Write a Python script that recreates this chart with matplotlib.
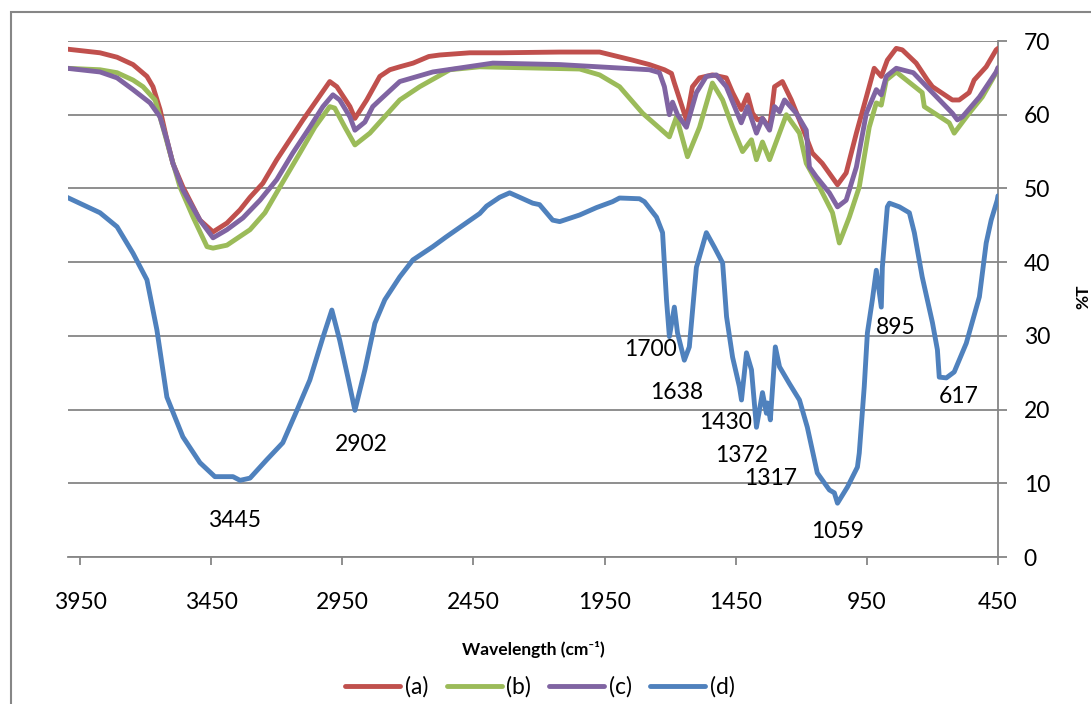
import numpy as np
import matplotlib
matplotlib.use("Agg")
import matplotlib.pyplot as plt
from matplotlib.patches import Rectangle

plt.rcParams['font.family'] = ['Lato', 'DejaVu Sans']

# spectra, wavenumber (cm-1) vs %T
wn_a = [4000, 3874, 3809, 3748, 3695, 3672, 3645, 3619, 3596, 3558, 3493, 3443, 3390, 3340, 3302,
        3253, 3200, 3150, 3100, 3047, 2998, 2971, 2921, 2902, 2857, 2807, 2769, 2731, 2680, 2620,
        2579, 2464, 2350, 2121, 1969, 1843, 1779, 1722, 1695, 1684, 1638, 1615, 1588, 1539, 1486,
        1462, 1429, 1405, 1386, 1367, 1348, 1321, 1302, 1272, 1238, 1196, 1158, 1120, 1062, 1029,
        990, 952, 922, 895, 872, 838, 815, 762, 719, 700, 624, 598, 560, 541, 495, 457, 450]
t_a = [68.9, 68.4, 67.8, 66.8, 65.2, 63.8, 60.7, 56.6, 53.4, 50.2, 45.7, 44.1, 45.3, 47.1, 48.8,
       50.7, 53.9, 56.6, 59.3, 62.0, 64.5, 63.8, 61.1, 59.5, 62.0, 65.2, 66.1, 66.5, 67.0, 67.9,
       68.1, 68.4, 68.4, 68.5, 68.5, 67.4, 66.8, 66.1, 65.6, 64.3, 59.3, 63.8, 65.0, 65.4, 65.0,
       63.0, 60.7, 62.7, 60.2, 59.3, 59.5, 58.2, 63.8, 64.5, 62.0, 58.3, 54.8, 53.4, 50.5, 52.1,
       57.5, 62.4, 66.3, 65.2, 67.4, 69.0, 68.8, 67.0, 64.7, 63.8, 62.0, 62.0, 63.0, 64.7, 66.5,
       68.8, 69.0]

wn_b = [4000, 3874, 3809, 3748, 3710, 3664, 3634, 3607, 3569, 3519, 3466, 3443, 3390, 3302, 3245,
        3188, 3112, 3055, 2998, 2979, 2940, 2902, 2845, 2731, 2655, 2540, 2426, 2045, 1969, 1893,
        1805, 1741, 1703, 1676, 1634, 1588, 1539, 1500, 1462, 1424, 1390, 1371, 1348, 1321, 1257,
        1207, 1181, 1131, 1081, 1055, 1017, 979, 941, 914, 895, 876, 838, 739, 731, 636,
        617, 560, 510, 457, 450]
t_b = [66.3, 66.1, 65.7, 64.7, 63.8, 62.0, 58.3, 54.8, 50.2, 46.1, 42.1, 41.9, 42.3, 44.4, 46.7,
       50.2, 54.8, 58.3, 61.1, 60.9, 58.3, 55.9, 57.5, 62.0, 63.8, 66.1, 66.5, 66.2, 65.4, 63.8,
       60.2, 58.2, 57.0, 59.7, 54.3, 58.3, 64.3, 62.0, 58.3, 55.0, 56.6, 53.9, 56.3, 53.9, 60.0,
       57.5, 53.4, 50.2, 46.7, 42.6, 46.1, 50.2, 58.3, 61.6, 61.3, 64.7, 65.8, 63.0, 61.1, 58.9,
       57.5, 60.2, 62.4, 65.7, 66.3]

wn_c = [4000, 3874, 3809, 3748, 3683, 3645, 3619, 3596, 3558, 3493, 3443, 3390, 3329, 3264, 3200,
        3139, 3074, 3024, 2986, 2960, 2921, 2902, 2864, 2834, 2807, 2731, 2605, 2376, 2121, 1779,
        1741, 1722, 1703, 1691, 1672, 1638, 1600, 1562, 1524, 1486, 1429, 1405, 1371, 1348, 1321,
        1302, 1283, 1264, 1219, 1181, 1169, 1143, 1093, 1062, 1029, 990, 952, 914, 895, 876,
        838, 773, 700, 624, 605, 586, 521, 457, 450]
t_c = [66.3, 65.8, 65.0, 63.4, 61.6, 59.7, 56.6, 53.4, 49.8, 45.7, 43.3, 44.4, 46.0, 48.4, 51.2,
       54.8, 58.3, 61.1, 62.7, 62.0, 59.7, 57.9, 59.0, 61.1, 62.0, 64.5, 65.8, 67.0, 66.8, 66.1,
       65.7, 63.8, 60.0, 61.7, 60.0, 58.3, 63.0, 65.2, 65.4, 63.8, 58.9, 61.1, 57.5, 59.5, 57.9,
       61.1, 60.4, 62.0, 60.2, 57.9, 52.9, 51.6, 49.4, 47.5, 48.4, 52.9, 60.2, 63.4, 62.7, 65.2,
       66.3, 65.7, 63.0, 60.2, 59.3, 59.7, 62.4, 65.8, 66.4]

wn_d = [4000, 3874, 3809, 3748, 3695, 3657, 3619, 3558, 3493, 3436, 3367, 3340, 3302, 3238, 3177,
        3123, 3074, 3024, 2990, 2960, 2929, 2902, 2864, 2826, 2788, 2731, 2681, 2605, 2555, 2426,
        2400, 2350, 2312, 2274, 2224, 2198, 2148, 2121, 2045, 1981, 1920, 1893, 1817, 1798, 1752,
        1729, 1714, 1703, 1684, 1672, 1646, 1627, 1600, 1562, 1531, 1500, 1485, 1462, 1436, 1428,
        1409, 1390, 1371, 1348, 1333, 1329, 1318, 1299, 1283, 1245, 1207, 1177, 1139, 1093, 1074,
        1062, 1024, 986, 979, 960, 948, 929, 914, 895, 891, 872, 864, 826, 788, 769,
        739, 700, 681, 674, 647, 617, 571, 521, 495, 476, 453, 450]
t_d = [48.8, 46.7, 44.8, 41.2, 37.6, 30.8, 21.7, 16.3, 12.8, 10.9, 10.9, 10.4, 10.7, 13.2, 15.5,
       19.9, 24.0, 29.8, 33.5, 29.4, 24.4, 19.9, 25.4, 31.7, 34.9, 38.0, 40.3, 42.1, 43.4, 46.6,
       47.6, 48.8, 49.4, 48.8, 48.0, 47.8, 45.7, 45.5, 46.4, 47.4, 48.2, 48.7, 48.6, 48.2, 46.1,
       44.0, 34.9, 29.9, 33.9, 30.4, 26.7, 28.5, 39.3, 44.0, 42.0, 39.9, 32.6, 27.1, 23.1, 21.3,
       27.7, 25.4, 17.6, 22.3, 19.5, 20.9, 18.6, 28.5, 25.8, 23.5, 21.3, 17.6, 11.4, 9.1, 8.7,
       7.3, 9.5, 12.2, 14.1, 23.1, 30.4, 34.9, 38.9, 33.9, 39.3, 47.5, 48.0, 47.5, 46.7, 44.0,
       38.0, 31.8, 28.1, 24.4, 24.3, 25.1, 29.0, 35.3, 42.6, 45.7, 48.4, 49.0]

series = ['(a)', '(b)', '(c)', '(d)']
colours = ['#C0504D', '#9BBB59', '#8064A2', '#4F81BD']

peak_labels = ['3445', '2902', '1700', '1638', '1430', '1372', '1317', '1059', '895', '617']
# where each label sits (wavenumber, %T)
label_pos = [(3360, 5.0), (2876, 15.2), (1775, 28.1), (1676, 22.3), (1489, 18.3),
             (1428, 13.8), (1318, 10.6), (1062, 3.5), (841, 31.1), (598, 21.8)]

W, H = 1091, 704
fig = plt.figure(figsize=(W / 100, H / 100), dpi=100)
ax = fig.add_axes([68 / W, 1 - 557 / H, (998 - 68) / W, (557 - 41) / H])

lines = []
for wn, t, c in zip([wn_a, wn_b, wn_c, wn_d], [t_a, t_b, t_c, t_d], colours):
    ln, = ax.plot(wn, t, color=c, lw=3.5, solid_joinstyle='round', solid_capstyle='round', zorder=3)
    lines.append(ln)

for txt, (x, y) in zip(peak_labels, label_pos):
    ax.text(x, y, txt, ha='center', va='center', fontsize=16.5, zorder=4)

grey = '#868686'
ax.set_xlim(3996, 450)
ax.set_ylim(0, 70)
ax.set_xticks(np.arange(3950, 449, -500))
ax.set_yticks(np.arange(0, 71, 10))
ax.yaxis.tick_right()
ax.grid(axis='y', color=grey, lw=1.3, zorder=0)
for s in ['top', 'left']:
    ax.spines[s].set_visible(False)
for s in ['bottom', 'right']:
    ax.spines[s].set_color(grey)
    ax.spines[s].set_linewidth(1.3)
ax.tick_params(axis='x', direction='out', length=6, width=1.3, color=grey, pad=19, labelsize=16.5)
ax.tick_params(axis='y', direction='out', length=6.5, width=1.3, color=grey, pad=12, labelsize=16.5)

fig.text(533 / W, 1 - 649 / H, 'Wavelength (cm\u207b\u00b9)', ha='center', va='center',
         fontsize=12.5, fontweight='bold')
fig.text(1083 / W, 1 - 297 / H, '%T', ha='center', va='center', rotation=90,
         fontsize=12.5, fontweight='bold')

fig.legend(lines, series, loc='center', bbox_to_anchor=(540 / W, 1 - 687 / H), ncol=4,
           frameon=False, fontsize=16.5, handlelength=2.4, handletextpad=0.2, columnspacing=0.8)

fig.patches.append(Rectangle((11 / W, -0.1), 1.2, 1 - 12 / H + 0.1, transform=fig.transFigure,
                             fill=False, edgecolor=grey, lw=1.5))

fig.savefig('out.png', dpi=100)
